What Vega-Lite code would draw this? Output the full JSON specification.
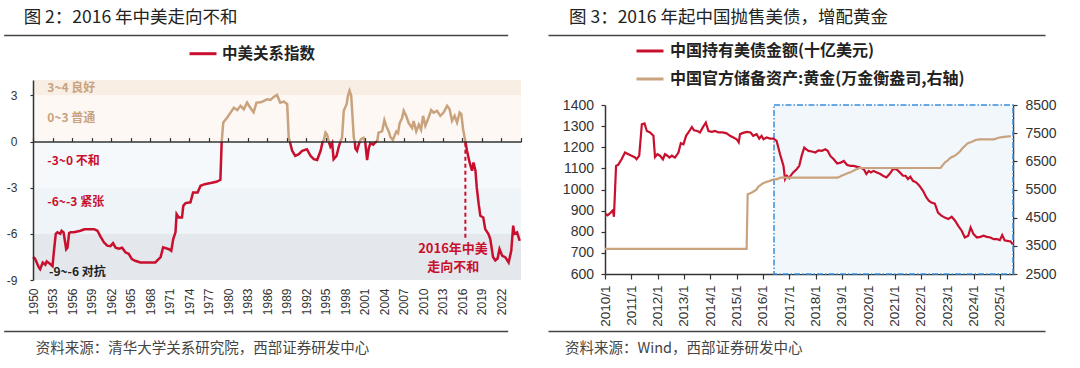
{
  "$schema": "https://vega.github.io/schema/vega-lite/v6.json",
  "background": "white",
  "padding": {"left": 3, "top": 8, "right": 0, "bottom": 0},
  "spacing": 23,
  "resolve": {"scale": {"stroke": "independent"}, "legend": {"stroke": "independent"}},
  "config": {
    "view": {"stroke": null},
    "font": "Noto Sans CJK SC",
    "axis": {"labelFont": "Liberation Sans", "labelColor": "#333333", "domainColor": "#333333", "tickColor": "#333333", "grid": false},
    "title": {"font": "Noto Sans CJK SC", "fontWeight": "normal", "color": "#222222"},
    "legend": {"labelFont": "Noto Sans CJK SC", "labelFontWeight": "bold", "labelColor": "#222222", "labelLimit": 420}
  },
  "datasets": {
    "frame": [],
    "bands": [
      {"band": "良好", "lo": 3, "hi": 4},
      {"band": "普通", "lo": 0, "hi": 3},
      {"band": "不和", "lo": -3, "hi": 0},
      {"band": "紧张", "lo": -6, "hi": -3},
      {"band": "对抗", "lo": -9, "hi": -6}
    ],
    "bandLabels": [
      {"t": 1952.2, "v": 3.5, "label": "3~4 良好", "tone": "好"},
      {"t": 1952.2, "v": 1.56, "label": "0~3 普通", "tone": "好"},
      {"t": 1952.2, "v": -1.25, "label": "-3~0 不和", "tone": "差"},
      {"t": 1952.2, "v": -3.96, "label": "-6~-3 紧张", "tone": "差"},
      {"t": 1952.45, "v": -8.5, "label": "-9~-6 对抗", "tone": "敌"}
    ],
    "marker": [{"t": 2016.45, "lo": -6.25, "hi": 0}],
    "note": [
      {"t": 2014.55, "v": -6.97, "label": "2016年中美"},
      {"t": 2014.6, "v": -8.14, "label": "走向不和"}
    ],
    "relations": [
      {"t": 1950.0, "pos": null, "neg": -7.5},
      {"t": 1950.3, "pos": null, "neg": -7.6},
      {"t": 1950.9, "pos": null, "neg": -8.18},
      {"t": 1951.1, "pos": null, "neg": -8.3},
      {"t": 1951.5, "pos": null, "neg": -7.86},
      {"t": 1951.9, "pos": null, "neg": -8.0},
      {"t": 1952.1, "pos": null, "neg": -7.8},
      {"t": 1952.6, "pos": null, "neg": -7.95},
      {"t": 1953.0, "pos": null, "neg": -8.1},
      {"t": 1953.2, "pos": null, "neg": -7.2},
      {"t": 1953.5, "pos": null, "neg": -6.0},
      {"t": 1953.75, "pos": null, "neg": -5.9},
      {"t": 1954.2, "pos": null, "neg": -6.0},
      {"t": 1954.4, "pos": null, "neg": -5.8},
      {"t": 1954.7, "pos": null, "neg": -5.9},
      {"t": 1954.9, "pos": null, "neg": -6.45},
      {"t": 1955.1, "pos": null, "neg": -7.0},
      {"t": 1955.3, "pos": null, "neg": -6.9},
      {"t": 1955.55, "pos": null, "neg": -5.95},
      {"t": 1955.8, "pos": null, "neg": -5.9},
      {"t": 1956.3, "pos": null, "neg": -5.9},
      {"t": 1956.8, "pos": null, "neg": -5.85},
      {"t": 1957.3, "pos": null, "neg": -5.8},
      {"t": 1957.6, "pos": null, "neg": -5.75},
      {"t": 1957.9, "pos": null, "neg": -5.7},
      {"t": 1958.6, "pos": null, "neg": -5.7},
      {"t": 1959.4, "pos": null, "neg": -5.7},
      {"t": 1959.9, "pos": null, "neg": -5.8},
      {"t": 1960.4, "pos": null, "neg": -6.2},
      {"t": 1960.9, "pos": null, "neg": -6.55},
      {"t": 1961.4, "pos": null, "neg": -6.77},
      {"t": 1961.9, "pos": null, "neg": -6.8},
      {"t": 1962.3, "pos": null, "neg": -6.6},
      {"t": 1962.7, "pos": null, "neg": -6.9},
      {"t": 1963.2, "pos": null, "neg": -6.97},
      {"t": 1963.7, "pos": null, "neg": -6.9},
      {"t": 1964.2, "pos": null, "neg": -7.2},
      {"t": 1964.7, "pos": null, "neg": -7.3},
      {"t": 1965.2, "pos": null, "neg": -7.64},
      {"t": 1965.7, "pos": null, "neg": -7.75},
      {"t": 1966.5, "pos": null, "neg": -7.86},
      {"t": 1967.5, "pos": null, "neg": -7.86},
      {"t": 1968.8, "pos": null, "neg": -7.86},
      {"t": 1969.3, "pos": null, "neg": -7.64},
      {"t": 1969.6, "pos": null, "neg": -7.53},
      {"t": 1970.0, "pos": null, "neg": -6.88},
      {"t": 1970.9, "pos": null, "neg": -7.0},
      {"t": 1971.25, "pos": null, "neg": -7.1},
      {"t": 1971.55, "pos": null, "neg": -6.34},
      {"t": 1971.9, "pos": null, "neg": -5.9},
      {"t": 1972.07, "pos": null, "neg": -4.72},
      {"t": 1972.4, "pos": null, "neg": -4.93},
      {"t": 1972.9, "pos": null, "neg": -4.93},
      {"t": 1973.1, "pos": null, "neg": -4.18},
      {"t": 1973.45, "pos": null, "neg": -4.0},
      {"t": 1974.2, "pos": null, "neg": -3.95},
      {"t": 1974.6, "pos": null, "neg": -3.31},
      {"t": 1975.3, "pos": null, "neg": -3.31},
      {"t": 1975.75, "pos": null, "neg": -2.88},
      {"t": 1976.4, "pos": null, "neg": -2.77},
      {"t": 1977.3, "pos": null, "neg": -2.7},
      {"t": 1978.2, "pos": null, "neg": -2.62},
      {"t": 1978.8, "pos": null, "neg": -2.49},
      {"t": 1979.0, "pos": 0, "neg": 0},
      {"t": 1979.24, "pos": 1.24, "neg": null},
      {"t": 1979.85, "pos": 1.56, "neg": null},
      {"t": 1980.36, "pos": 1.88, "neg": null},
      {"t": 1980.87, "pos": 2.2, "neg": null},
      {"t": 1981.4, "pos": 2.05, "neg": null},
      {"t": 1981.9, "pos": 2.32, "neg": null},
      {"t": 1982.4, "pos": 2.1, "neg": null},
      {"t": 1982.9, "pos": 2.53, "neg": null},
      {"t": 1983.4, "pos": 2.2, "neg": null},
      {"t": 1983.9, "pos": 1.9, "neg": null},
      {"t": 1984.35, "pos": 2.53, "neg": null},
      {"t": 1985.0, "pos": 2.55, "neg": null},
      {"t": 1985.5, "pos": 2.64, "neg": null},
      {"t": 1986.0, "pos": 2.75, "neg": null},
      {"t": 1986.5, "pos": 2.7, "neg": null},
      {"t": 1987.0, "pos": 2.9, "neg": null},
      {"t": 1987.5, "pos": 3.03, "neg": null},
      {"t": 1988.0, "pos": 2.53, "neg": null},
      {"t": 1988.55, "pos": 2.6, "neg": null},
      {"t": 1989.07, "pos": 2.43, "neg": null},
      {"t": 1989.3, "pos": 0.26, "neg": null},
      {"t": 1989.47, "pos": 0, "neg": 0},
      {"t": 1989.83, "pos": null, "neg": -0.6},
      {"t": 1990.3, "pos": null, "neg": -0.93},
      {"t": 1990.85, "pos": null, "neg": -0.82},
      {"t": 1991.37, "pos": null, "neg": -0.6},
      {"t": 1992.1, "pos": null, "neg": -0.5},
      {"t": 1992.65, "pos": null, "neg": -0.93},
      {"t": 1993.15, "pos": null, "neg": -1.15},
      {"t": 1993.67, "pos": null, "neg": -1.2},
      {"t": 1994.2, "pos": null, "neg": -0.6},
      {"t": 1994.5, "pos": null, "neg": -0.05},
      {"t": 1994.65, "pos": 0, "neg": 0},
      {"t": 1994.95, "pos": 0.58, "neg": null},
      {"t": 1995.2, "pos": 0.45, "neg": null},
      {"t": 1995.45, "pos": 0, "neg": 0},
      {"t": 1995.7, "pos": null, "neg": -0.33},
      {"t": 1995.98, "pos": null, "neg": -0.1},
      {"t": 1996.2, "pos": null, "neg": -1.15},
      {"t": 1996.65, "pos": null, "neg": -0.93},
      {"t": 1997.0, "pos": null, "neg": -0.33},
      {"t": 1997.25, "pos": 0, "neg": 0},
      {"t": 1997.5, "pos": 0.26, "neg": null},
      {"t": 1997.76, "pos": 2.0, "neg": null},
      {"t": 1998.2, "pos": 2.43, "neg": null},
      {"t": 1998.4, "pos": 2.97, "neg": null},
      {"t": 1998.65, "pos": 3.3, "neg": null},
      {"t": 1998.9, "pos": 3.0, "neg": null},
      {"t": 1999.05, "pos": 2.0, "neg": null},
      {"t": 1999.3, "pos": 0.26, "neg": null},
      {"t": 1999.45, "pos": 0, "neg": 0},
      {"t": 1999.55, "pos": null, "neg": -0.45},
      {"t": 1999.8, "pos": null, "neg": -0.6},
      {"t": 2000.06, "pos": null, "neg": -0.2},
      {"t": 2000.2, "pos": 0, "neg": 0},
      {"t": 2000.4, "pos": 0.15, "neg": null},
      {"t": 2000.8, "pos": 0.25, "neg": null},
      {"t": 2001.05, "pos": 0, "neg": 0},
      {"t": 2001.35, "pos": null, "neg": -1.2},
      {"t": 2001.6, "pos": null, "neg": -0.45},
      {"t": 2001.86, "pos": null, "neg": -0.1},
      {"t": 2002.3, "pos": null, "neg": -0.2},
      {"t": 2002.6, "pos": null, "neg": -0.05},
      {"t": 2002.9, "pos": 0, "neg": 0},
      {"t": 2003.1, "pos": 0.58, "neg": null},
      {"t": 2003.65, "pos": 0.66, "neg": null},
      {"t": 2004.0, "pos": 1.39, "neg": null},
      {"t": 2004.3, "pos": 1.0, "neg": null},
      {"t": 2004.67, "pos": 0.66, "neg": null},
      {"t": 2004.93, "pos": 0.3, "neg": null},
      {"t": 2005.3, "pos": 0.1, "neg": null},
      {"t": 2005.85, "pos": 0.66, "neg": null},
      {"t": 2006.1, "pos": 0.55, "neg": null},
      {"t": 2006.35, "pos": 1.2, "neg": null},
      {"t": 2006.7, "pos": 1.5, "neg": null},
      {"t": 2006.97, "pos": 2.0, "neg": null},
      {"t": 2007.35, "pos": 1.67, "neg": null},
      {"t": 2007.74, "pos": 1.2, "neg": null},
      {"t": 2008.26, "pos": 0.88, "neg": null},
      {"t": 2008.5, "pos": 1.33, "neg": null},
      {"t": 2008.9, "pos": 0.66, "neg": null},
      {"t": 2009.3, "pos": 1.1, "neg": null},
      {"t": 2009.65, "pos": 0.77, "neg": null},
      {"t": 2009.95, "pos": 1.67, "neg": null},
      {"t": 2010.3, "pos": 1.02, "neg": null},
      {"t": 2010.8, "pos": 1.56, "neg": null},
      {"t": 2011.2, "pos": 2.04, "neg": null},
      {"t": 2011.58, "pos": 1.88, "neg": null},
      {"t": 2012.1, "pos": 1.99, "neg": null},
      {"t": 2012.6, "pos": 1.67, "neg": null},
      {"t": 2013.1, "pos": 1.88, "neg": null},
      {"t": 2013.64, "pos": 2.32, "neg": null},
      {"t": 2014.03, "pos": 2.1, "neg": null},
      {"t": 2014.4, "pos": 1.35, "neg": null},
      {"t": 2014.8, "pos": 1.67, "neg": null},
      {"t": 2015.17, "pos": 1.24, "neg": null},
      {"t": 2015.57, "pos": 1.88, "neg": null},
      {"t": 2015.83, "pos": 1.78, "neg": null},
      {"t": 2016.1, "pos": 0.8, "neg": null},
      {"t": 2016.45, "pos": 0, "neg": 0},
      {"t": 2016.7, "pos": null, "neg": -0.6},
      {"t": 2017.1, "pos": null, "neg": -1.36},
      {"t": 2017.47, "pos": null, "neg": -1.9},
      {"t": 2017.7, "pos": null, "neg": -1.36},
      {"t": 2018.0, "pos": null, "neg": -1.9},
      {"t": 2018.2, "pos": null, "neg": -2.98},
      {"t": 2018.5, "pos": null, "neg": -4.07},
      {"t": 2018.75, "pos": null, "neg": -4.83},
      {"t": 2019.2, "pos": null, "neg": -4.94},
      {"t": 2019.5, "pos": null, "neg": -5.69},
      {"t": 2020.0, "pos": null, "neg": -6.01},
      {"t": 2020.28, "pos": null, "neg": -6.34},
      {"t": 2020.7, "pos": null, "neg": -7.5},
      {"t": 2021.05, "pos": null, "neg": -7.72},
      {"t": 2021.4, "pos": null, "neg": -7.6},
      {"t": 2021.7, "pos": null, "neg": -6.99},
      {"t": 2022.1, "pos": null, "neg": -7.42},
      {"t": 2022.6, "pos": null, "neg": -7.53},
      {"t": 2023.1, "pos": null, "neg": -7.86},
      {"t": 2023.5, "pos": null, "neg": -7.1},
      {"t": 2023.8, "pos": null, "neg": -5.47},
      {"t": 2024.0, "pos": null, "neg": -6.0},
      {"t": 2024.4, "pos": null, "neg": -5.9},
      {"t": 2024.8, "pos": null, "neg": -6.45}
    ],
    "window": [{"start": 2016.42, "end": 2025.5}],
    "ust": [
      {"t": 2010.03, "ust": 884}, {"t": 2010.1, "ust": 878}, {"t": 2010.22, "ust": 891}, {"t": 2010.3, "ust": 902},
      {"t": 2010.34, "ust": 871}, {"t": 2010.42, "ust": 1112}, {"t": 2010.5, "ust": 1117}, {"t": 2010.63, "ust": 1143},
      {"t": 2010.76, "ust": 1175}, {"t": 2010.89, "ust": 1167}, {"t": 2011.01, "ust": 1160}, {"t": 2011.14, "ust": 1152},
      {"t": 2011.2, "ust": 1143}, {"t": 2011.3, "ust": 1160}, {"t": 2011.4, "ust": 1309}, {"t": 2011.5, "ust": 1313},
      {"t": 2011.59, "ust": 1277}, {"t": 2011.71, "ust": 1270}, {"t": 2011.84, "ust": 1254}, {"t": 2011.9, "ust": 1154},
      {"t": 2011.99, "ust": 1167}, {"t": 2012.09, "ust": 1160}, {"t": 2012.2, "ust": 1143}, {"t": 2012.28, "ust": 1167},
      {"t": 2012.37, "ust": 1160}, {"t": 2012.45, "ust": 1151}, {"t": 2012.54, "ust": 1160}, {"t": 2012.66, "ust": 1151},
      {"t": 2012.79, "ust": 1175}, {"t": 2012.88, "ust": 1219}, {"t": 2012.98, "ust": 1214}, {"t": 2013.08, "ust": 1254},
      {"t": 2013.17, "ust": 1270}, {"t": 2013.3, "ust": 1296}, {"t": 2013.38, "ust": 1280}, {"t": 2013.51, "ust": 1277},
      {"t": 2013.61, "ust": 1270}, {"t": 2013.71, "ust": 1293}, {"t": 2013.83, "ust": 1317}, {"t": 2013.93, "ust": 1277},
      {"t": 2014.06, "ust": 1273}, {"t": 2014.18, "ust": 1277}, {"t": 2014.31, "ust": 1270}, {"t": 2014.47, "ust": 1270},
      {"t": 2014.62, "ust": 1266}, {"t": 2014.75, "ust": 1254}, {"t": 2014.88, "ust": 1246}, {"t": 2015.0, "ust": 1238},
      {"t": 2015.08, "ust": 1223}, {"t": 2015.13, "ust": 1262}, {"t": 2015.25, "ust": 1268}, {"t": 2015.38, "ust": 1273},
      {"t": 2015.53, "ust": 1270}, {"t": 2015.63, "ust": 1254}, {"t": 2015.76, "ust": 1262}, {"t": 2015.86, "ust": 1241},
      {"t": 2015.95, "ust": 1254}, {"t": 2016.02, "ust": 1238}, {"t": 2016.14, "ust": 1246}, {"t": 2016.27, "ust": 1241},
      {"t": 2016.4, "ust": 1241}, {"t": 2016.52, "ust": 1230}, {"t": 2016.65, "ust": 1167}, {"t": 2016.78, "ust": 1112},
      {"t": 2016.84, "ust": 1049}, {"t": 2016.91, "ust": 1065}, {"t": 2017.0, "ust": 1054}, {"t": 2017.05, "ust": 1065},
      {"t": 2017.15, "ust": 1081}, {"t": 2017.28, "ust": 1096}, {"t": 2017.38, "ust": 1112}, {"t": 2017.47, "ust": 1159},
      {"t": 2017.57, "ust": 1198}, {"t": 2017.65, "ust": 1190}, {"t": 2017.73, "ust": 1183}, {"t": 2017.86, "ust": 1180},
      {"t": 2017.99, "ust": 1175}, {"t": 2018.11, "ust": 1185}, {"t": 2018.24, "ust": 1183}, {"t": 2018.37, "ust": 1190},
      {"t": 2018.46, "ust": 1183}, {"t": 2018.56, "ust": 1159}, {"t": 2018.69, "ust": 1143}, {"t": 2018.82, "ust": 1123},
      {"t": 2018.95, "ust": 1127}, {"t": 2019.07, "ust": 1135}, {"t": 2019.2, "ust": 1116}, {"t": 2019.33, "ust": 1112},
      {"t": 2019.45, "ust": 1112}, {"t": 2019.58, "ust": 1107}, {"t": 2019.69, "ust": 1104}, {"t": 2019.83, "ust": 1096},
      {"t": 2019.93, "ust": 1073}, {"t": 2020.02, "ust": 1088}, {"t": 2020.1, "ust": 1081}, {"t": 2020.2, "ust": 1088},
      {"t": 2020.33, "ust": 1081}, {"t": 2020.46, "ust": 1073}, {"t": 2020.56, "ust": 1065}, {"t": 2020.69, "ust": 1057},
      {"t": 2020.81, "ust": 1073}, {"t": 2020.94, "ust": 1096}, {"t": 2021.07, "ust": 1096}, {"t": 2021.2, "ust": 1081},
      {"t": 2021.32, "ust": 1065}, {"t": 2021.42, "ust": 1065}, {"t": 2021.51, "ust": 1049}, {"t": 2021.6, "ust": 1060},
      {"t": 2021.7, "ust": 1041}, {"t": 2021.83, "ust": 1033}, {"t": 2021.95, "ust": 1017}, {"t": 2022.08, "ust": 994},
      {"t": 2022.21, "ust": 962}, {"t": 2022.31, "ust": 946}, {"t": 2022.4, "ust": 938}, {"t": 2022.53, "ust": 933},
      {"t": 2022.65, "ust": 891}, {"t": 2022.78, "ust": 876}, {"t": 2022.91, "ust": 867}, {"t": 2023.04, "ust": 860},
      {"t": 2023.17, "ust": 871}, {"t": 2023.3, "ust": 852}, {"t": 2023.42, "ust": 828}, {"t": 2023.55, "ust": 805},
      {"t": 2023.67, "ust": 773}, {"t": 2023.8, "ust": 781}, {"t": 2023.89, "ust": 820}, {"t": 2024.0, "ust": 789},
      {"t": 2024.13, "ust": 773}, {"t": 2024.26, "ust": 776}, {"t": 2024.38, "ust": 781}, {"t": 2024.51, "ust": 776},
      {"t": 2024.64, "ust": 773}, {"t": 2024.77, "ust": 765}, {"t": 2024.9, "ust": 765}, {"t": 2025.0, "ust": 760},
      {"t": 2025.09, "ust": 784}, {"t": 2025.18, "ust": 760}, {"t": 2025.28, "ust": 757}, {"t": 2025.41, "ust": 754},
      {"t": 2025.49, "ust": 740}
    ],
    "gold": [
      {"t": 2010.0, "gold": 3389}, {"t": 2015.38, "gold": 3389}, {"t": 2015.42, "gold": 5331}, {"t": 2015.58, "gold": 5393},
      {"t": 2015.67, "gold": 5445}, {"t": 2015.75, "gold": 5493}, {"t": 2015.83, "gold": 5605}, {"t": 2015.92, "gold": 5666},
      {"t": 2016.0, "gold": 5719}, {"t": 2016.08, "gold": 5748}, {"t": 2016.17, "gold": 5781}, {"t": 2016.25, "gold": 5804},
      {"t": 2016.33, "gold": 5832}, {"t": 2016.42, "gold": 5862}, {"t": 2016.5, "gold": 5862}, {"t": 2016.58, "gold": 5886},
      {"t": 2016.67, "gold": 5924}, {"t": 2018.83, "gold": 5924}, {"t": 2018.92, "gold": 5956}, {"t": 2019.0, "gold": 5994},
      {"t": 2019.08, "gold": 6026}, {"t": 2019.17, "gold": 6062}, {"t": 2019.25, "gold": 6092}, {"t": 2019.33, "gold": 6110},
      {"t": 2019.42, "gold": 6161}, {"t": 2019.5, "gold": 6194}, {"t": 2019.58, "gold": 6226}, {"t": 2019.67, "gold": 6264},
      {"t": 2022.75, "gold": 6264}, {"t": 2022.83, "gold": 6367}, {"t": 2022.92, "gold": 6464}, {"t": 2023.0, "gold": 6512},
      {"t": 2023.08, "gold": 6592}, {"t": 2023.17, "gold": 6650}, {"t": 2023.25, "gold": 6676}, {"t": 2023.33, "gold": 6727},
      {"t": 2023.42, "gold": 6795}, {"t": 2023.5, "gold": 6869}, {"t": 2023.58, "gold": 6962}, {"t": 2023.67, "gold": 7046},
      {"t": 2023.75, "gold": 7120}, {"t": 2023.83, "gold": 7158}, {"t": 2023.92, "gold": 7187}, {"t": 2024.0, "gold": 7219},
      {"t": 2024.08, "gold": 7258}, {"t": 2024.17, "gold": 7274}, {"t": 2024.25, "gold": 7280}, {"t": 2024.75, "gold": 7280},
      {"t": 2024.83, "gold": 7296}, {"t": 2024.92, "gold": 7329}, {"t": 2025.0, "gold": 7345}, {"t": 2025.08, "gold": 7361},
      {"t": 2025.17, "gold": 7370}, {"t": 2025.25, "gold": 7377}, {"t": 2025.33, "gold": 7383}, {"t": 2025.42, "gold": 7390}
    ]
  },
  "hconcat": [
    {
      "spacing": 0,
      "vconcat": [
        {
          "width": 474.7, "height": 44.8,
          "title": {"text": "图 2：2016 年中美走向不和", "anchor": "start", "dx": 20, "fontSize": 17.5, "offset": 9},
          "data": {"name": "frame"},
          "mark": "rule",
          "encoding": {"x": {"field": "a", "type": "quantitative", "title": null, "scale": {"domain": [0, 1], "range": [0, 504]},
                             "axis": {"orient": "top", "position": -29.3, "labels": false, "ticks": false, "domainColor": "#444444", "domainWidth": 1.4}}}
        },
        {
          "width": 488, "height": 200,
          "resolve": {"axis": {"x": "independent"}},
          "layer": [
            {
              "data": {"name": "bands"},
              "mark": {"type": "rect"},
              "encoding": {
                "y": {"field": "lo", "type": "quantitative", "title": null,
                      "scale": {"domain": [-9, 4], "nice": false, "zero": false},
                      "axis": {"values": [-9, -6, -3, 0, 3], "labelExpr": "'' + datum.value", "tickSize": 3, "labelPadding": 13, "labelFontSize": 12, "domainWidth": 1.5, "tickWidth": 1.2, "minExtent": 29, "zindex": 1}},
                "y2": {"field": "hi"},
                "fill": {"field": "band", "type": "nominal", "legend": null,
                         "scale": {"domain": ["良好", "普通", "不和", "紧张", "对抗"], "range": ["#F8EEE4", "#FDF8F3", "#F6F9FC", "#EEF4F8", "#E4E7EC"]}}
              }
            },
            {
              "data": {"name": "bandLabels"},
              "mark": {"type": "text", "align": "left", "baseline": "middle", "fontSize": 12, "fontWeight": "bold"},
              "encoding": {
                "x": {"field": "t", "type": "quantitative", "axis": null, "scale": {"domain": [1950, 2025], "nice": false, "zero": false}},
                "y": {"field": "v", "type": "quantitative", "title": null, "scale": {"domain": [-9, 4], "nice": false, "zero": false}},
                "text": {"field": "label"},
                "color": {"field": "tone", "type": "nominal", "legend": null,
                          "scale": {"domain": ["好", "差", "敌"], "range": ["#C9A27E", "#C8102E", "#222222"]}}
              }
            },
            {
              "data": {"name": "marker"},
              "mark": {"type": "rule", "color": "#C8102E", "strokeDash": [4, 3], "strokeWidth": 2},
              "encoding": {
                "x": {"field": "t", "type": "quantitative", "axis": null, "scale": {"domain": [1950, 2025], "nice": false, "zero": false}},
                "y": {"field": "lo", "type": "quantitative", "title": null, "scale": {"domain": [-9, 4], "nice": false, "zero": false}},
                "y2": {"field": "hi"}
              }
            },
            {
              "data": {"name": "relations"},
              "mark": {"type": "line", "color": "#C9A27E", "strokeWidth": 2.5, "invalid": "break-paths-show-domains"},
              "encoding": {
                "x": {"field": "t", "type": "quantitative", "title": null, "scale": {"domain": [1950, 2025], "nice": false, "zero": false},
                      "axis": {"values": [1950, 1953, 1956, 1959, 1962, 1965, 1968, 1971, 1974, 1977, 1980, 1983, 1986, 1989, 1992, 1995, 1998, 2001, 2004, 2007, 2010, 2013, 2016, 2019, 2022], "format": "d", "labelAngle": 270, "labelAlign": "right", "labelBaseline": "middle", "domain": false, "ticks": false, "labelPadding": 8, "labelFontSize": 12, "labelOverlap": false, "zindex": 1}},
                "y": {"field": "pos", "type": "quantitative", "title": null, "scale": {"domain": [-9, 4], "nice": false, "zero": false}}
              }
            },
            {
              "data": {"name": "relations"},
              "mark": {"type": "line", "strokeWidth": 2.5, "invalid": "break-paths-show-domains"},
              "encoding": {
                "x": {"field": "t", "type": "quantitative", "title": null, "scale": {"domain": [1950, 2025], "nice": false, "zero": false},
                      "axis": {"values": [1950, 1953, 1956, 1959, 1962, 1965, 1968, 1971, 1974, 1977, 1980, 1983, 1986, 1989, 1992, 1995, 1998, 2001, 2004, 2007, 2010, 2013, 2016, 2019, 2022, 2025], "labels": false, "tickSize": 4, "tickWidth": 1.2, "domainWidth": 1.5, "offset": -61.54, "zindex": 1}},
                "y": {"field": "neg", "type": "quantitative", "title": null, "scale": {"domain": [-9, 4], "nice": false, "zero": false}},
                "stroke": {"datum": "中美关系指数", "type": "nominal", "scale": {"domain": ["中美关系指数"], "range": ["#C8102E"]},
                           "legend": {"title": null, "orient": "none", "legendX": 155, "legendY": 3.7, "symbolType": "stroke", "symbolSize": 729, "symbolStrokeWidth": 3, "labelFontSize": 15.5, "labelOffset": 4}}
              }
            },
            {
              "data": {"name": "note"},
              "mark": {"type": "text", "color": "#C8102E", "fontSize": 13, "fontWeight": "bold", "align": "center", "baseline": "middle"},
              "encoding": {
                "x": {"field": "t", "type": "quantitative", "axis": null, "scale": {"domain": [1950, 2025], "nice": false, "zero": false}},
                "y": {"field": "v", "type": "quantitative", "title": null, "scale": {"domain": [-9, 4], "nice": false, "zero": false}},
                "text": {"field": "label"}
              }
            }
          ]
        },
        {
          "width": 474.7, "height": 16,
          "title": {"text": "资料来源：清华大学关系研究院，西部证券研发中心", "orient": "bottom", "anchor": "start", "dx": 32, "fontSize": 14.5, "color": "#444444", "offset": 11},
          "data": {"name": "frame"},
          "mark": "rule",
          "encoding": {"x": {"field": "a", "type": "quantitative", "title": null, "scale": {"domain": [0, 1], "range": [0, 504]},
                             "axis": {"orient": "bottom", "position": -29.3, "labels": false, "ticks": false, "domainColor": "#444444", "domainWidth": 1.4}}}
        }
      ]
    },
    {
      "spacing": 0,
      "vconcat": [
        {
          "width": 440, "height": 62.5,
          "title": {"text": "图 3：2016 年起中国抛售美债，增配黄金", "anchor": "start", "dx": 21, "fontSize": 17.5, "offset": 9},
          "data": {"name": "frame"},
          "mark": "rule",
          "encoding": {"x": {"field": "a", "type": "quantitative", "title": null, "scale": {"domain": [0, 1], "range": [0, 497]},
                             "axis": {"orient": "top", "position": -57, "labels": false, "ticks": false, "domainColor": "#444444", "domainWidth": 1.4}}}
        },
        {
          "width": 408, "height": 169,
          "resolve": {"scale": {"y": "independent"}},
          "layer": [
            {
              "data": {"name": "window"},
              "mark": {"type": "rect", "fill": "#F2F7FC", "stroke": "#3A8EDB", "strokeWidth": 1.5, "strokeDash": [6, 2, 1.5, 2]},
              "encoding": {
                "x": {"field": "start", "type": "quantitative", "title": null, "scale": {"domain": [2010, 2025.5], "nice": false, "zero": false},
                      "axis": {"values": [2010, 2011, 2012, 2013, 2014, 2015, 2016, 2017, 2018, 2019, 2020, 2021, 2022, 2023, 2024, 2025], "labelExpr": "datum.value + '/1'", "labelAngle": 270, "labelAlign": "right", "labelBaseline": "middle", "tickSize": 5, "tickWidth": 1.2, "labelPadding": 6, "labelFontSize": 13.5, "domainWidth": 1.5, "labelOverlap": false}},
                "x2": {"field": "end"}
              }
            },
            {
              "data": {"name": "ust"},
              "mark": {"type": "line", "strokeWidth": 2.2},
              "encoding": {
                "x": {"field": "t", "type": "quantitative", "title": null, "scale": {"domain": [2010, 2025.5], "nice": false, "zero": false},
                      "axis": {"values": [2010, 2011, 2012, 2013, 2014, 2015, 2016, 2017, 2018, 2019, 2020, 2021, 2022, 2023, 2024, 2025], "labelExpr": "datum.value + '/1'", "labelAngle": 270, "labelAlign": "right", "labelBaseline": "middle", "tickSize": 5, "tickWidth": 1.2, "labelPadding": 6, "labelFontSize": 13.5, "domainWidth": 1.5, "labelOverlap": false}},
                "y": {"field": "ust", "type": "quantitative", "title": null, "scale": {"domain": [600, 1400], "nice": false, "zero": false},
                      "axis": {"values": [600, 700, 800, 900, 1000, 1100, 1200, 1300, 1400], "format": "d", "tickSize": 4, "tickWidth": 1.2, "labelPadding": 7.5, "labelFontSize": 14, "domainWidth": 1.5, "minExtent": 57}},
                "stroke": {"datum": "中国持有美债金额(十亿美元)", "type": "nominal",
                           "scale": {"domain": ["中国持有美债金额(十亿美元)", "中国官方储备资产:黄金(万金衡盎司,右轴)"], "range": ["#C8102E", "#C9A27E"]},
                           "legend": {"title": null, "orient": "none", "direction": "vertical", "legendX": 30, "legendY": 1, "symbolType": "stroke", "symbolSize": 729, "symbolStrokeWidth": 3, "labelFontSize": 16, "labelOffset": 5, "rowPadding": 5}}
              }
            },
            {
              "data": {"name": "gold"},
              "mark": {"type": "line", "strokeWidth": 2.2},
              "encoding": {
                "x": {"field": "t", "type": "quantitative", "title": null, "scale": {"domain": [2010, 2025.5], "nice": false, "zero": false},
                      "axis": {"values": [2010, 2011, 2012, 2013, 2014, 2015, 2016, 2017, 2018, 2019, 2020, 2021, 2022, 2023, 2024, 2025], "labelExpr": "datum.value + '/1'", "labelAngle": 270, "labelAlign": "right", "labelBaseline": "middle", "tickSize": 5, "tickWidth": 1.2, "labelPadding": 6, "labelFontSize": 13.5, "domainWidth": 1.5, "labelOverlap": false}},
                "y": {"field": "gold", "type": "quantitative", "title": null, "scale": {"domain": [2500, 8500], "nice": false, "zero": false},
                      "axis": {"orient": "right", "values": [2500, 3500, 4500, 5500, 6500, 7500, 8500], "format": "d", "tickSize": 4, "tickWidth": 1.2, "labelPadding": 8, "labelFontSize": 14, "domainWidth": 1.5}},
                "stroke": {"datum": "中国官方储备资产:黄金(万金衡盎司,右轴)", "type": "nominal",
                           "scale": {"domain": ["中国持有美债金额(十亿美元)", "中国官方储备资产:黄金(万金衡盎司,右轴)"], "range": ["#C8102E", "#C9A27E"]},
                           "legend": {"title": null, "orient": "none", "direction": "vertical", "legendX": 30, "legendY": 1, "symbolType": "stroke", "symbolSize": 729, "symbolStrokeWidth": 3, "labelFontSize": 16, "labelOffset": 5, "rowPadding": 5}}
              }
            }
          ]
        },
        {
          "width": 440, "height": 4,
          "title": {"text": "资料来源：Wind，西部证券研发中心", "orient": "bottom", "anchor": "start", "dx": 17, "fontSize": 14.5, "color": "#444444", "offset": 11},
          "data": {"name": "frame"},
          "mark": "rule",
          "encoding": {"x": {"field": "a", "type": "quantitative", "title": null, "scale": {"domain": [0, 1], "range": [0, 497]},
                             "axis": {"orient": "bottom", "position": -57, "labels": false, "ticks": false, "domainColor": "#444444", "domainWidth": 1.4}}}
        }
      ]
    }
  ]
}
